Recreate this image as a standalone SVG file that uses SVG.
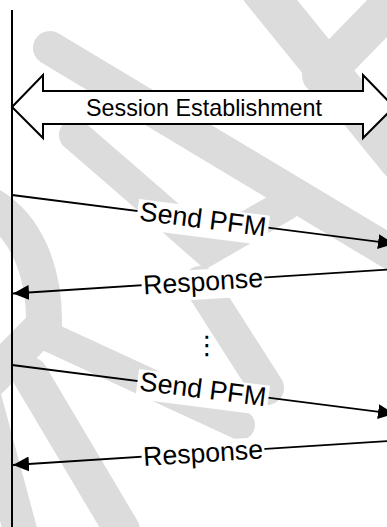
<svg xmlns="http://www.w3.org/2000/svg" width="387" height="527" viewBox="0 0 387 527">
  <style>
    .wm { fill: none; stroke: #dcdcdc; stroke-linecap: round; stroke-linejoin: round; }
    .life { stroke: #000; stroke-width: 2; fill: none; }
    .block { fill: #fff; stroke: #000; stroke-width: 2; stroke-linejoin: miter; }
    .msg { stroke: #000; stroke-width: 1.8; fill: none; marker-end: url(#head); }
    .bg { fill: #fff; }
    .lbl { font-family: "Liberation Sans", Arial, sans-serif; font-size: 27px; fill: #000; text-anchor: middle; }
    .title { font-family: "Liberation Sans", Arial, sans-serif; font-size: 24px; fill: #000; text-anchor: middle; }
    .dots { font-family: "DejaVu Sans", sans-serif; font-size: 26px; fill: #000; text-anchor: middle; }
  </style>
  <defs>
    <marker id="head" markerUnits="userSpaceOnUse" markerWidth="17" markerHeight="16" refX="16" refY="7.5" orient="auto">
      <path d="M0,0 L16,7.5 L0,15 Z" fill="#000"/>
    </marker>
  </defs>

  <!-- faint background watermark strokes -->
  <g id="watermark" class="wm">
    <path d="M50,48 L400,258" stroke-width="34"/>
    <path d="M75,135 L150,200 L207,250 L285,205" stroke-width="32" stroke-linejoin="miter"/>
    <path d="M200,283 L267,388" stroke-width="34"/>
    <path d="M262,-10 L400,160" stroke-width="42"/>
    <path d="M322,75 L400,-5" stroke-width="40"/>
    <path d="M-10,205 C25,225 45,270 44,325 L-10,380" stroke-width="36"/>
    <path d="M45,335 L240,425" stroke-width="30"/>
    <path d="M30,375 L122,530" stroke-width="36"/>
    <path d="M-15,400 L20,530" stroke-width="34"/>
  </g>

  <!-- lifeline -->
  <g id="lifeline">
    <line class="life" x1="12" y1="10" x2="12" y2="527"/>
  </g>

  <!-- session establishment span -->
  <g id="session">
    <path class="block" d="M12,107 L43,75 L43,91 L363,91 L363,75 L394,107 L363,138 L363,124 L43,124 L43,138 Z"/>
    <text class="title" x="204" y="115.5" textLength="236" lengthAdjust="spacingAndGlyphs">Session Establishment</text>
  </g>

  <!-- message arrows -->
  <g id="connectors">
    <line class="msg" x1="12" y1="195" x2="394" y2="243.7"/>
    <line class="msg" x1="400" y1="268.7" x2="13" y2="293.5"/>
    <line class="msg" x1="12" y1="365" x2="394" y2="413.7"/>
    <line class="msg" x1="400" y1="440.2" x2="13" y2="465"/>
  </g>

  <!-- message labels -->
  <g id="send1" transform="translate(203,219.3) rotate(7.26)">
    <rect class="bg" x="-66" y="-12" width="132" height="30"/>
    <text class="lbl" x="0" y="9" textLength="127" lengthAdjust="spacingAndGlyphs">Send PFM</text>
  </g>
  <g id="response1" transform="translate(203,281.3) rotate(-3.66)">
    <rect class="bg" x="-61.5" y="-12" width="123" height="30"/>
    <text class="lbl" x="0" y="9.3" textLength="120" lengthAdjust="spacingAndGlyphs">Response</text>
  </g>
  <g id="ellipsis">
    <text class="dots" x="207" y="354">⋮</text>
  </g>
  <g id="send2" transform="translate(203,389.3) rotate(7.26)">
    <rect class="bg" x="-66" y="-12" width="132" height="30"/>
    <text class="lbl" x="0" y="9" textLength="127" lengthAdjust="spacingAndGlyphs">Send PFM</text>
  </g>
  <g id="response2" transform="translate(203,452.8) rotate(-3.66)">
    <rect class="bg" x="-61.5" y="-12" width="123" height="30"/>
    <text class="lbl" x="0" y="9.3" textLength="120" lengthAdjust="spacingAndGlyphs">Response</text>
  </g>
</svg>
